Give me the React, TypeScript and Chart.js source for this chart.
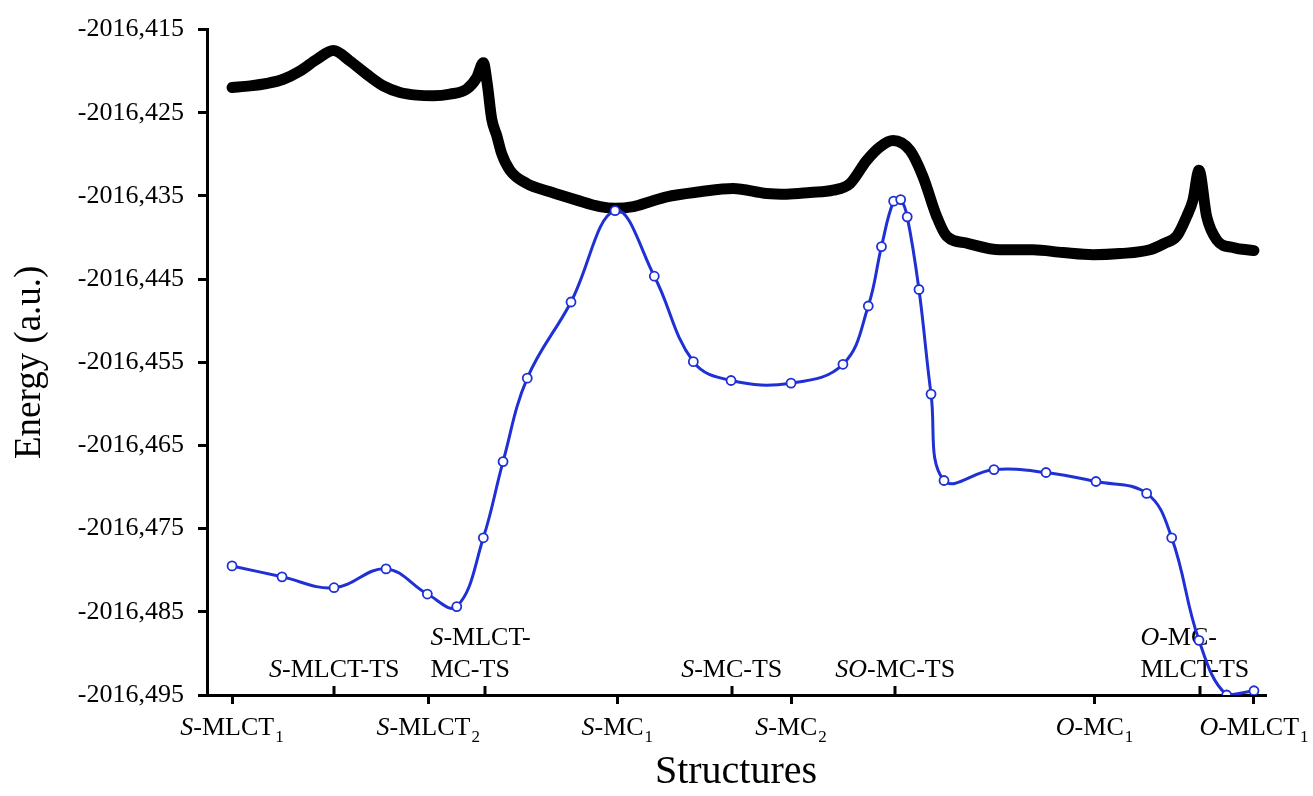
import React, { useEffect, useRef } from 'react';
import { Chart, registerables } from 'chart.js';

Chart.register(...registerables);

const FONT = '"Liberation Serif", "Times New Roman", Times, serif';

// Reaction-coordinate axis range (S-MLCT1 = 0, O-MLCT1 = 100)
const X_MIN = -2.45;
const X_MAX = 101.08;
const Y_MIN = -2016.495;
const Y_MAX = -2016.415;

const yTicks = [-2016.495, -2016.485, -2016.475, -2016.465, -2016.455, -2016.445, -2016.435, -2016.425, -2016.415];

// Minima (below-axis labels): "italic|normal|subscript"
const structurePos = [0, 19.2, 37.7, 54.7, 84.4, 100];
const structureLabels = ['S|-MLCT|1', 'S|-MLCT|2', 'S|-MC|1', 'S|-MC|2', 'O|-MC|1', 'O|-MLCT|1'];

// Transition states (above-axis labels), one entry per line
const tsPos = [10, 24.8, 48.9, 64.9, 94.7];
const tsLabels = [['S|-MLCT-TS'], ['S|-MLCT-', '|MC-TS'], ['S|-MC-TS'], ['SO|-MC-TS'], ['O|-MC-', '|MLCT-TS']];

// Blue series (optimised structures)
const blueX = [0, 4.89, 9.98, 15.07, 19.11, 21.99, 24.59, 26.52, 28.89, 33.17, 37.48, 41.32, 45.14, 48.83, 54.70, 59.78, 62.26, 63.55, 64.74, 65.43, 66.07, 67.22, 68.40, 69.67, 74.56, 79.65, 84.54, 89.50, 91.95, 94.62, 97.33, 100];
const blueY = [-2016.47948, -2016.48079, -2016.48210, -2016.47984, -2016.48286, -2016.48437, -2016.47610, -2016.46694, -2016.45691, -2016.44775, -2016.43677, -2016.44465, -2016.45492, -2016.45719, -2016.45751, -2016.45524, -2016.44823, -2016.44109, -2016.43563, -2016.43544, -2016.43751, -2016.44625, -2016.45882, -2016.46921, -2016.46790, -2016.46825, -2016.46933, -2016.47076, -2016.47610, -2016.48843, -2016.49500, -2016.49449];

// Black series (path energies)
const blackX = [0, 1.76, 3.40, 5.02, 6.65, 8.29, 9.91, 11.55, 13.18, 14.80, 16.44, 18.07, 19.70, 21.33, 22.96, 23.94, 24.59, 24.98, 25.41, 25.90, 26.39, 27.20, 28.84, 31.12, 33.73, 36.01, 37.48, 39.27, 40.90, 42.53, 45.79, 49.02, 52.32, 54.28, 56.56, 58.81, 60.47, 62.10, 63.41, 64.68, 66.34, 67.61, 68.95, 69.93, 71.89, 75.15, 78.38, 81.31, 84.25, 86.89, 89.82, 91.29, 92.44, 93.42, 94.03, 94.62, 95.37, 96.35, 97.95, 100];
const blackY = [-2016.42196, -2016.42177, -2016.42148, -2016.42097, -2016.41998, -2016.41858, -2016.41751, -2016.41879, -2016.42037, -2016.42177, -2016.42256, -2016.42288, -2016.42296, -2016.42276, -2016.42216, -2016.42077, -2016.41898, -2016.42157, -2016.42575, -2016.42774, -2016.42993, -2016.43192, -2016.43351, -2016.43450, -2016.43550, -2016.43629, -2016.43649, -2016.43629, -2016.43569, -2016.43510, -2016.43450, -2016.43410, -2016.43470, -2016.43479, -2016.43458, -2016.43431, -2016.43351, -2016.43073, -2016.42909, -2016.42834, -2016.42953, -2016.43267, -2016.43745, -2016.43984, -2016.44067, -2016.44147, -2016.44147, -2016.44181, -2016.44207, -2016.44193, -2016.44147, -2016.44067, -2016.43984, -2016.43745, -2016.43550, -2016.43192, -2016.43748, -2016.44028, -2016.44121, -2016.44157];

const BLUE = '#1f30d4';
const BASE = 26;
const SUB = 17;

function measureRich(ctx: CanvasRenderingContext2D, spec: string) {
  const [it = '', norm = '', sub = ''] = spec.split('|');
  ctx.font = `italic ${BASE}px ${FONT}`;
  const w1 = it ? ctx.measureText(it).width : 0;
  ctx.font = `${BASE}px ${FONT}`;
  const w2 = norm ? ctx.measureText(norm).width : 0;
  ctx.font = `${SUB}px ${FONT}`;
  const w3 = sub ? ctx.measureText(sub).width + 1 : 0;
  return { it, norm, sub, w1, w2, w3, total: w1 + w2 + w3 };
}

function drawRich(ctx: CanvasRenderingContext2D, spec: string, left: number, baseline: number) {
  const m = measureRich(ctx, spec);
  ctx.fillStyle = '#000';
  ctx.textBaseline = 'alphabetic';
  ctx.textAlign = 'left';
  let x = left;
  if (m.it) {
    ctx.font = `italic ${BASE}px ${FONT}`;
    ctx.fillText(m.it, x, baseline);
    x += m.w1;
  }
  if (m.norm) {
    ctx.font = `${BASE}px ${FONT}`;
    ctx.fillText(m.norm, x, baseline);
    x += m.w2;
  }
  if (m.sub) {
    ctx.font = `${SUB}px ${FONT}`;
    ctx.fillText(m.sub, x + 1, baseline + 7);
  }
}

const labelPlugin = {
  id: 'richLabels',
  beforeDatasetsDraw(chart: any) {
    const ctx: CanvasRenderingContext2D = chart.ctx;
    const xs = chart.scales.x;
    const bottom = chart.chartArea.bottom;
    ctx.save();
    tsLabels.forEach((lines, i) => {
      const cx = xs.getPixelForValue(tsPos[i]);
      const widths = lines.map((l) => measureRich(ctx, l).total);
      const maxW = Math.max(...widths);
      const left = lines.length > 1 ? cx - maxW / 2 - 5 : cx - maxW / 2;
      lines.forEach((l, j) => {
        const baseline = bottom - 18 - (lines.length - 1 - j) * 32;
        drawRich(ctx, l, lines.length > 1 ? left : cx - widths[j] / 2, baseline);
      });
    });
    ctx.restore();
  },
  afterDraw(chart: any) {
    const ctx: CanvasRenderingContext2D = chart.ctx;
    const xs = chart.scales.x;
    const bottom = chart.chartArea.bottom;
    ctx.save();
    // upward tick marks for transition states
    ctx.strokeStyle = '#000';
    ctx.lineWidth = 3;
    tsPos.forEach((p) => {
      const x = Math.round(xs.getPixelForValue(p));
      ctx.beginPath();
      ctx.moveTo(x, bottom);
      ctx.lineTo(x, bottom - 9);
      ctx.stroke();
    });
    structureLabels.forEach((l, i) => {
      const cx = xs.getPixelForValue(structurePos[i]);
      const m = measureRich(ctx, l);
      drawRich(ctx, l, cx - m.total / 2, bottom + 40);
    });
    ctx.restore();
  },
};

export default function App() {
  const ref = useRef<HTMLCanvasElement>(null);

  useEffect(() => {
    const canvas = ref.current;
    if (!canvas) return;
    const axisGrid = {
      drawOnChartArea: false,
      drawTicks: true,
      tickLength: 9,
      lineWidth: 3,
      tickWidth: 3,
      color: '#000',
    };
    const chart = new Chart(canvas, {
      type: 'line',
      data: {
        datasets: [
          {
            label: 'structures',
            data: blueX.map((x, i) => ({ x, y: blueY[i] })),
            borderColor: BLUE,
            borderWidth: 3,
            tension: 0.4,
            pointRadius: 4.5,
            pointBorderWidth: 1.8,
            pointBackgroundColor: '#ffffff',
            pointBorderColor: BLUE,
            order: 0,
          },
          {
            label: 'path',
            data: blackX.map((x, i) => ({ x, y: blackY[i] })),
            borderColor: '#000000',
            borderWidth: 11,
            pointRadius: 0,
            cubicInterpolationMode: 'monotone',
            borderCapStyle: 'round',
            borderJoinStyle: 'round',
            order: 1,
          },
        ],
      },
      options: {
        responsive: false,
        animation: false,
        devicePixelRatio: 1,
        layout: { padding: { top: 25, right: 48, left: 0, bottom: 0 } },
        plugins: { legend: { display: false }, tooltip: { enabled: false } },
        scales: {
          x: {
            type: 'linear',
            min: X_MIN,
            max: X_MAX,
            afterBuildTicks: (s: any) => {
              s.ticks = structurePos.map((v) => ({ value: v }));
            },
            afterFit: (s: any) => {
              s.height = 101;
            },
            ticks: { callback: () => '', autoSkip: false },
            grid: axisGrid,
            border: { display: true, color: '#000', width: 3 },
            title: {
              display: true,
              text: 'Structures',
              color: '#000',
              font: { family: FONT, size: 40 },
              padding: { top: 0, bottom: 0 },
            },
          },
          y: {
            type: 'linear',
            min: Y_MIN,
            max: Y_MAX,
            afterBuildTicks: (s: any) => {
              s.ticks = yTicks.map((v) => ({ value: v }));
            },
            afterFit: (s: any) => {
              s.width = 207;
            },
            ticks: {
              callback: (v: any) => Number(v).toFixed(3).replace('.', ','),
              color: '#000',
              font: { family: FONT, size: 26 },
              padding: 14,
              autoSkip: false,
            },
            grid: axisGrid,
            border: { display: true, color: '#000', width: 3 },
            title: {
              display: true,
              text: 'Energy (a.u.)',
              color: '#000',
              font: { family: FONT, size: 37 },
              padding: { top: 8, bottom: 0 },
            },
          },
        },
      },
      plugins: [labelPlugin],
    } as any);
    return () => chart.destroy();
  }, []);

  return (
    <div style={{ position: 'absolute', left: 0, top: 0, width: 1313, height: 796, background: '#fff' }}>
      <canvas ref={ref} width={1313} height={796} style={{ display: 'block' }} />
    </div>
  );
}
